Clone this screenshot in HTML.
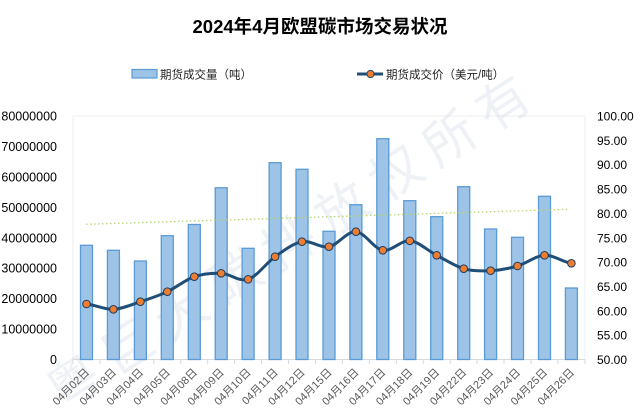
<!DOCTYPE html>
<html>
<head>
<meta charset="utf-8">
<style>
  html,body{margin:0;padding:0;background:#fff;}
  svg{display:block;}
  text{font-family:"Liberation Sans","Noto Sans CJK SC",sans-serif;}
</style>
</head>
<body>
<svg width="640" height="418" viewBox="0 0 640 418" xmlns="http://www.w3.org/2000/svg">
  <rect x="0" y="0" width="640" height="418" fill="#fff"/>

  <!-- title -->
  <text x="320" y="33" font-size="18.5" font-weight="bold" text-anchor="middle" fill="#000">2024年4月欧盟碳市场交易状况</text>

  <!-- legend -->
  <rect x="132" y="69.5" width="25" height="8.5" fill="#9dc3e6" stroke="#5b9bd5" stroke-width="1.2"/>
  <text x="160" y="78.5" font-size="11.5" fill="#222">期货成交量（吨）</text>
  <line x1="357" y1="74" x2="383" y2="74" stroke="#1f4e79" stroke-width="3"/>
  <circle cx="370.5" cy="74" r="3.6" fill="#ed7d31" stroke="#1f3e60" stroke-width="1"/>
  <text x="386" y="78.5" font-size="11.5" fill="#222">期货成交价（美元/吨）</text>

  <!-- plot frame -->
  <rect x="73" y="116" width="512" height="243.5" fill="none" stroke="#eeeeee" stroke-width="1"/>

  <!-- watermark -->
  <g transform="translate(62,412) rotate(-33)">
    <text x="0" y="0" font-size="52" fill="#c6cfe2" fill-opacity="0.3" letter-spacing="12">粤巨大碳排放权所有</text>
  </g>

  <!-- x axis -->
  <line x1="73" y1="359.5" x2="585" y2="359.5" stroke="#d9d9d9" stroke-width="1"/>
  <g stroke="#d9d9d9" stroke-width="1">
    <line x1="73" y1="359.5" x2="73" y2="364"/>
    <line x1="99.9" y1="359.5" x2="99.9" y2="364"/>
    <line x1="126.9" y1="359.5" x2="126.9" y2="364"/>
    <line x1="153.8" y1="359.5" x2="153.8" y2="364"/>
    <line x1="180.8" y1="359.5" x2="180.8" y2="364"/>
    <line x1="207.7" y1="359.5" x2="207.7" y2="364"/>
    <line x1="234.6" y1="359.5" x2="234.6" y2="364"/>
    <line x1="261.6" y1="359.5" x2="261.6" y2="364"/>
    <line x1="288.5" y1="359.5" x2="288.5" y2="364"/>
    <line x1="315.5" y1="359.5" x2="315.5" y2="364"/>
    <line x1="342.4" y1="359.5" x2="342.4" y2="364"/>
    <line x1="369.3" y1="359.5" x2="369.3" y2="364"/>
    <line x1="396.3" y1="359.5" x2="396.3" y2="364"/>
    <line x1="423.2" y1="359.5" x2="423.2" y2="364"/>
    <line x1="450.2" y1="359.5" x2="450.2" y2="364"/>
    <line x1="477.1" y1="359.5" x2="477.1" y2="364"/>
    <line x1="504.0" y1="359.5" x2="504.0" y2="364"/>
    <line x1="531.0" y1="359.5" x2="531.0" y2="364"/>
    <line x1="557.9" y1="359.5" x2="557.9" y2="364"/>
    <line x1="585" y1="359.5" x2="585" y2="364"/>
  </g>

  <!-- left axis labels -->
  <g font-size="12.5" fill="#000" text-anchor="end">
    <text x="57" y="120.5">80000000</text>
    <text x="57" y="150.9">70000000</text>
    <text x="57" y="181.4">60000000</text>
    <text x="57" y="211.8">50000000</text>
    <text x="57" y="242.3">40000000</text>
    <text x="57" y="272.7">30000000</text>
    <text x="57" y="303.1">20000000</text>
    <text x="57" y="333.6">10000000</text>
    <text x="57" y="364">0</text>
  </g>

  <!-- right axis labels -->
  <g font-size="12" fill="#000" text-anchor="start">
    <text x="597" y="120.5">100.00</text>
    <text x="597" y="144.9">95.00</text>
    <text x="597" y="169.2">90.00</text>
    <text x="597" y="193.6">85.00</text>
    <text x="597" y="217.9">80.00</text>
    <text x="597" y="242.3">75.00</text>
    <text x="597" y="266.6">70.00</text>
    <text x="597" y="291.0">65.00</text>
    <text x="597" y="315.3">60.00</text>
    <text x="597" y="339.7">55.00</text>
    <text x="597" y="364">50.00</text>
  </g>

  <!-- bars -->
  <g fill="#9dc3e6" stroke="#5b9bd5" stroke-width="1.3">
    <rect x="80.5" y="245.3" width="12" height="114.2"/>
    <rect x="107.4" y="250.3" width="12" height="109.2"/>
    <rect x="134.4" y="261" width="12" height="98.5"/>
    <rect x="161.3" y="235.7" width="12" height="123.8"/>
    <rect x="188.3" y="224.5" width="12" height="135"/>
    <rect x="215.2" y="187.8" width="12" height="171.7"/>
    <rect x="242.1" y="248.3" width="12" height="111.2"/>
    <rect x="269.1" y="162.7" width="12" height="196.8"/>
    <rect x="296.0" y="169.3" width="12" height="190.2"/>
    <rect x="323.0" y="231.3" width="12" height="128.2"/>
    <rect x="349.9" y="204.7" width="12" height="154.8"/>
    <rect x="376.8" y="138.7" width="12" height="220.8"/>
    <rect x="403.8" y="200.7" width="12" height="158.8"/>
    <rect x="430.7" y="216.7" width="12" height="142.8"/>
    <rect x="457.7" y="186.7" width="12" height="172.8"/>
    <rect x="484.6" y="229" width="12" height="130.5"/>
    <rect x="511.5" y="237.3" width="12" height="122.2"/>
    <rect x="538.5" y="196.3" width="12" height="163.2"/>
    <rect x="565.4" y="288" width="12" height="71.5"/>
  </g>

  <!-- trendline -->
  <line x1="86" y1="224.3" x2="569" y2="209.3" stroke="#b8d27a" stroke-width="1.3" stroke-dasharray="1.5,2.5"/>

  <!-- price line (smoothed) -->
  <path fill="none" stroke="#1f4e79" stroke-width="3" stroke-linejoin="round" stroke-linecap="round"
    d="M86.5,304
       C95.5,304.9 104.4,309.7 113.4,309.3
       C122.4,308.9 131.4,304.6 140.4,301.7
       C149.4,298.8 158.3,295.9 167.3,291.7
       C176.3,287.5 185.3,279.8 194.3,276.7
       C203.3,273.6 212.2,272.9 221.2,273.3
       C230.2,273.7 239.1,282.1 248.1,279.3
       C257.1,276.5 266.1,263.0 275.1,256.7
       C284.1,250.4 293.0,243.4 302.0,241.7
       C311.0,240.0 320.0,248.4 329.0,246.7
       C338.0,245.0 346.9,231.1 355.9,231.7
       C364.9,232.3 373.8,248.8 382.8,250.3
       C391.8,251.8 400.8,240.0 409.8,240.8
       C418.8,241.6 427.7,250.7 436.7,255.3
       C445.7,259.9 454.7,266.1 463.7,268.7
       C472.7,271.3 481.6,271.2 490.6,270.7
       C499.6,270.2 508.5,268.6 517.5,266
       C526.5,263.4 535.5,255.8 544.5,255.3
       C553.5,254.8 562.4,262.0 571.4,263.3"/>
  <g fill="#ed7d31" stroke="#1f3e60" stroke-width="1">
    <circle cx="86.5" cy="304" r="3.8"/>
    <circle cx="113.4" cy="309.3" r="3.8"/>
    <circle cx="140.4" cy="301.7" r="3.8"/>
    <circle cx="167.3" cy="291.7" r="3.8"/>
    <circle cx="194.3" cy="276.7" r="3.8"/>
    <circle cx="221.2" cy="273.3" r="3.8"/>
    <circle cx="248.1" cy="279.3" r="3.8"/>
    <circle cx="275.1" cy="256.7" r="3.8"/>
    <circle cx="302.0" cy="241.7" r="3.8"/>
    <circle cx="329.0" cy="246.7" r="3.8"/>
    <circle cx="355.9" cy="231.7" r="3.8"/>
    <circle cx="382.8" cy="250.3" r="3.8"/>
    <circle cx="409.8" cy="240.8" r="3.8"/>
    <circle cx="436.7" cy="255.3" r="3.8"/>
    <circle cx="463.7" cy="268.7" r="3.8"/>
    <circle cx="490.6" cy="270.7" r="3.8"/>
    <circle cx="517.5" cy="266" r="3.8"/>
    <circle cx="544.5" cy="255.3" r="3.8"/>
    <circle cx="571.4" cy="263.3" r="3.8"/>
  </g>

  <!-- x labels -->
  <g font-size="11" fill="#595959" text-anchor="end">
    <text transform="translate(90,373) rotate(-45)">04月02日</text>
    <text transform="translate(116.9,373) rotate(-45)">04月03日</text>
    <text transform="translate(143.9,373) rotate(-45)">04月04日</text>
    <text transform="translate(170.8,373) rotate(-45)">04月05日</text>
    <text transform="translate(197.8,373) rotate(-45)">04月08日</text>
    <text transform="translate(224.7,373) rotate(-45)">04月09日</text>
    <text transform="translate(251.6,373) rotate(-45)">04月10日</text>
    <text transform="translate(278.6,373) rotate(-45)">04月11日</text>
    <text transform="translate(305.5,373) rotate(-45)">04月12日</text>
    <text transform="translate(332.5,373) rotate(-45)">04月15日</text>
    <text transform="translate(359.4,373) rotate(-45)">04月16日</text>
    <text transform="translate(386.3,373) rotate(-45)">04月17日</text>
    <text transform="translate(413.3,373) rotate(-45)">04月18日</text>
    <text transform="translate(440.2,373) rotate(-45)">04月19日</text>
    <text transform="translate(467.2,373) rotate(-45)">04月22日</text>
    <text transform="translate(494.1,373) rotate(-45)">04月23日</text>
    <text transform="translate(521.0,373) rotate(-45)">04月24日</text>
    <text transform="translate(548.0,373) rotate(-45)">04月25日</text>
    <text transform="translate(574.9,373) rotate(-45)">04月26日</text>
  </g>
</svg>
</body>
</html>
